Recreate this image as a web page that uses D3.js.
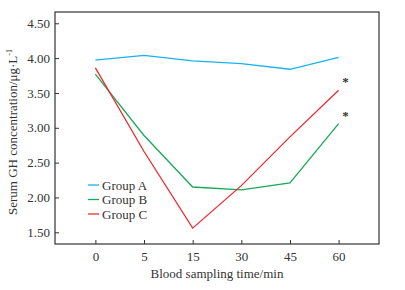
<!DOCTYPE html>
<html>
<head>
<meta charset="utf-8">
<script src="https://cdn.jsdelivr.net/npm/d3@7"></script>
<style>
  body { margin: 0; background: #fff; }
  svg text { font-family: "Liberation Serif", "Times New Roman", "DejaVu Serif", serif; fill: #333; }
</style>
</head>
<body>
<div id="container"></div>
<script>
// sampling times (categorical) and serum GH per group
const times = ["0", "5", "15", "30", "45", "60"];
const groupA = [3.97, 4.04, 3.96, 3.92, 3.84, 4.01];
const groupB = [3.77, 2.89, 2.15, 2.11, 2.21, 3.06];
const groupC = [3.86, 2.66, 1.56, 2.17, 2.87, 3.54];
const yTicks = [1.5, 2.0, 2.5, 3.0, 3.5, 4.0, 4.5];
const groupNames = ["Group A", "Group B", "Group C"];
const colors = ["#1ab2ec", "#18a957", "#ef2a2f"];
const starred = [{ t: "60", v: 3.54 + 0.14 }, { t: "60", v: 3.06 + 0.14 }];

const W = 405, H = 290;
const margin = { top: 12, right: 26, bottom: 46, left: 55 };
const width = W - margin.left - margin.right;
const height = H - margin.top - margin.bottom;

const svg = d3.select("#container").append("svg")
  .attr("width", W).attr("height", H)
  .append("g")
  .attr("transform", `translate(${margin.left},${margin.top})`);

const x = d3.scalePoint().domain(times).range([0, width]).padding(0.83);
const y = d3.scaleLinear().domain([1.332, 4.662]).range([height, 0]);

// frame
svg.append("rect")
  .attr("width", width).attr("height", height)
  .attr("fill", "none").attr("stroke", "#333").attr("stroke-width", 1.2);

// x axis (ticks inside)
const xg = svg.append("g")
  .attr("transform", `translate(0,${height})`)
  .call(d3.axisBottom(x).tickSizeInner(-4).tickSizeOuter(0).tickPadding(8))
  .attr("font-family", null).attr("font-size", null);
xg.select(".domain").remove();
xg.selectAll("line").attr("stroke", "#333");
xg.selectAll("text").style("font-size", "13px").attr("fill", "#333");

// y axis (ticks inside)
const yg = svg.append("g")
  .call(d3.axisLeft(y).tickValues(yTicks).tickFormat(d3.format(".2f"))
    .tickSizeInner(-4).tickSizeOuter(0).tickPadding(5))
  .attr("font-family", null).attr("font-size", null);
yg.select(".domain").remove();
yg.selectAll("line").attr("stroke", "#333");
yg.selectAll("text").style("font-size", "13px").attr("fill", "#333");

// axis titles
svg.append("text")
  .attr("x", width / 2).attr("y", height + 34)
  .attr("text-anchor", "middle").style("font-size", "13px")
  .text("Blood sampling time/min");

const yt = svg.append("text")
  .attr("transform", `translate(-38,${height / 2 + 4}) rotate(-90)`)
  .attr("text-anchor", "middle").style("font-size", "13px");
yt.append("tspan").text("Serum GH concentration/μg·L");
yt.append("tspan").attr("dy", -5).style("font-size", "8px").text("-1");

// lines
const line = d3.line().x((d, i) => x(times[i])).y(d => y(d));
[groupA, groupB, groupC].forEach((s, k) => {
  svg.append("path").datum(s)
    .attr("d", line)
    .attr("fill", "none")
    .attr("stroke", colors[k])
    .attr("stroke-width", 1.3);
});

// significance marks
svg.selectAll(".star").data(starred).enter().append("text")
  .attr("x", d => x(d.t) + 7).attr("y", d => y(d.v) + 6)
  .attr("text-anchor", "middle")
  .style("font-size", "13px").style("font-weight", "bold").attr("fill", "#666")
  .text("*");

// legend
const lg = svg.append("g").attr("transform", "translate(33,173)");
groupNames.forEach((name, i) => {
  const row = lg.append("g").attr("transform", `translate(0,${i * 14.5})`);
  row.append("line").attr("x1", 0).attr("x2", 11).attr("y1", 0).attr("y2", 0)
    .attr("stroke", colors[i]).attr("stroke-width", 1.3);
  row.append("text").attr("x", 14).attr("y", 4.5)
    .style("font-size", "13px").text(name);
});
</script>
</body>
</html>
